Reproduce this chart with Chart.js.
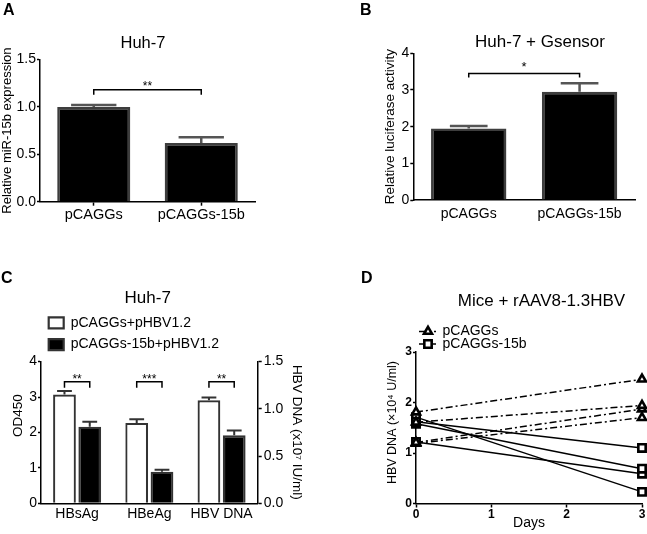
<!DOCTYPE html>
<html>
<head>
<meta charset="utf-8">
<script src="https://cdn.jsdelivr.net/npm/chart.js@4.4.1/dist/chart.umd.min.js"></script>
<style>
  html, body { margin: 0; padding: 0; background: #fff; overflow: hidden; }
  #page { position: relative; width: 647px; height: 534px; overflow: hidden; background: #fff; }
  #page canvas { position: absolute; }
  .letter { position: absolute; font: bold 16px "Liberation Sans", Arial, sans-serif; line-height: 16px; color: #000; }
</style>
</head>
<body>
<div id="page">
  <canvas id="chartA" width="286" height="267" style="left:0px;top:0px"></canvas>
  <canvas id="chartB" width="328" height="267" style="left:376px;top:0px"></canvas>
  <canvas id="chartC" width="345" height="267" style="left:-25px;top:267px"></canvas>
  <canvas id="chartD" width="315" height="267" style="left:384px;top:267px"></canvas>
  <div class="letter" style="left:3px;top:2px">A</div>
  <div class="letter" style="left:360px;top:2px">B</div>
  <div class="letter" style="left:1px;top:270px">C</div>
  <div class="letter" style="left:361px;top:270px">D</div>
</div>
<script>
// panel A - miR-15b expression
const catsA = ['pCAGGs', 'pCAGGs-15b'];
const meanA = [1.00, 0.62];
const errA = [0.02, 0.06];
const ticksA = [0, 0.5, 1.0, 1.5];
const sigA = [{ from: [0, 0], to: [0, 1], level: 1.18, label: '**' }];

// panel B - luciferase
const catsB = ['pCAGGs', 'pCAGGs-15b'];
const meanB = [1.95, 2.95];
const errB = [0.07, 0.23];
const ticksB = [0, 1, 2, 3, 4];
const sigB = [{ from: [0, 0], to: [0, 1], level: 3.45, label: '*' }];

// panel C - HBsAg / HBeAg (OD450, left) and HBV DNA (right)
const catsC = ['HBsAg', 'HBeAg', 'HBV DNA'];
const odCtrl = [3.07, 2.27, null];
const odCtrlErr = [0.10, 0.10, 0];
const od15b = [2.16, 0.89, null];
const od15bErr = [0.14, 0.06, 0];
const dnaCtrl = [null, null, 1.09];
const dnaCtrlErr = [0, 0, 0.03];
const dna15b = [null, null, 0.72];
const dna15bErr = [0, 0, 0.05];
const odTicks = [0, 1, 2, 3, 4];
const dnaTicks = [0, 0.5, 1.0, 1.5];
const sigC = [
  { from: [0, 0], to: [1, 0], level: 3.43, label: '**' },
  { from: [0, 1], to: [1, 1], level: 3.43, label: '***' },
  { from: [2, 2], to: [3, 2], level: 3.43, label: '**' }
];

// panel D - mice, one line per animal
const days = [0, 3];
const dayTicks = [0, 1, 2, 3];
const miceTicks = [0, 1, 2, 3];
const pcaggsMice = [[1.81, 2.46], [1.61, 1.94], [1.21, 1.87], [1.19, 1.70]];
const pcaggs15bMice = [[1.62, 1.10], [1.58, 0.69], [1.71, 0.23], [1.22, 0.59]];

const FONT = '"Liberation Sans", Arial, sans-serif';
Chart.defaults.font.family = FONT;
Chart.defaults.font.size = 14;
Chart.defaults.color = '#000';

const setTicks = list => axis => { axis.ticks = list.map(v => ({ value: v })); };

const errorBars = {
  id: 'errorBars',
  afterDatasetsDraw(chart, args, opts) {
    const ctx = chart.ctx;
    chart.data.datasets.forEach((ds, di) => {
      if (!ds.errors) return;
      const meta = chart.getDatasetMeta(di);
      const scale = chart.scales[meta.yAxisID];
      meta.data.forEach((bar, i) => {
        const v = ds.data[i];
        if (v === null || v === undefined) return;
        const top = scale.getPixelForValue(v + ds.errors[i]);
        const half = bar.width * opts.cap / 2;
        ctx.save();
        ctx.strokeStyle = opts.color;
        ctx.lineWidth = opts.width;
        ctx.beginPath();
        ctx.moveTo(bar.x, bar.y);
        ctx.lineTo(bar.x, top);
        ctx.moveTo(bar.x - half, top);
        ctx.lineTo(bar.x + half, top);
        ctx.stroke();
        ctx.restore();
      });
    });
  }
};

const sigBrackets = {
  id: 'sigBrackets',
  afterDatasetsDraw(chart, args, opts) {
    const ctx = chart.ctx;
    const scale = chart.scales.y;
    (opts.items || []).forEach(b => {
      const xa = chart.getDatasetMeta(b.from[0]).data[b.from[1]].x;
      const xb = chart.getDatasetMeta(b.to[0]).data[b.to[1]].x;
      const y = scale.getPixelForValue(b.level);
      ctx.save();
      ctx.strokeStyle = '#000';
      ctx.lineWidth = 1.5;
      ctx.beginPath();
      ctx.moveTo(xa, y + opts.drop);
      ctx.lineTo(xa, y);
      ctx.lineTo(xb, y);
      ctx.lineTo(xb, y + opts.drop);
      ctx.stroke();
      ctx.fillStyle = '#000';
      ctx.font = opts.size + 'px ' + FONT;
      ctx.textAlign = 'center';
      ctx.textBaseline = 'middle';
      ctx.fillText(b.label, (xa + xb) / 2, y - opts.gap);
      ctx.restore();
    });
  }
};

function marker(ctx, style, x, y, r) {
  ctx.beginPath();
  if (style === 'triangle') {
    let rad = 0;
    ctx.moveTo(x + Math.sin(rad) * r, y - Math.cos(rad) * r);
    rad += 2 * Math.PI / 3;
    ctx.lineTo(x + Math.sin(rad) * r, y - Math.cos(rad) * r);
    rad += 2 * Math.PI / 3;
    ctx.lineTo(x + Math.sin(rad) * r, y - Math.cos(rad) * r);
    ctx.closePath();
  } else {
    const s = r / Math.SQRT2;
    ctx.rect(x - s, y - s, 2 * s, 2 * s);
  }
  ctx.fill();
  ctx.stroke();
}

// legend for D: stacked rows with line sample + marker
const lineKey = {
  id: 'lineKey',
  afterDraw(chart, args, opts) {
    const ctx = chart.ctx;
    const area = chart.chartArea;
    (opts.items || []).forEach((it, k) => {
      const ds = chart.data.datasets[it.dataset];
      const y = area.top + opts.top + k * opts.rowGap;
      const sx = area.left + opts.symbolX;
      ctx.save();
      ctx.strokeStyle = ds.borderColor;
      ctx.lineWidth = ds.borderWidth;
      ctx.setLineDash(ds.borderDash || []);
      ctx.beginPath();
      ctx.moveTo(sx - 9, y);
      ctx.lineTo(sx + 8, y);
      ctx.stroke();
      ctx.setLineDash([]);
      ctx.fillStyle = ds.pointBackgroundColor;
      ctx.lineWidth = ds.pointBorderWidth;
      marker(ctx, ds.pointStyle, sx, y, ds.pointRadius);
      ctx.fillStyle = '#000';
      ctx.font = opts.size + 'px ' + FONT;
      ctx.textAlign = 'left';
      ctx.textBaseline = 'middle';
      ctx.fillText(ds.label, area.left + opts.textX, y);
      ctx.restore();
    });
  }
};

const axisLine = { color: '#000', width: 1.5 };
const tickGrid = len => ({ display: true, drawOnChartArea: false, offset: false, tickLength: len, tickColor: '#000', tickWidth: 1.5 });
const noTicks = { display: false, drawTicks: false };
// empty right-hand band so the panel title sits where the original has it
const spacer = w => ({
  position: 'right', display: true,
  grid: { display: false, drawTicks: false }, border: { display: false }, ticks: { display: false },
  afterFit: s => { s.width = w; }
});

// ---------- A ----------
new Chart(document.getElementById('chartA'), {
  type: 'bar',
  data: {
    labels: catsA,
    datasets: [{
      data: meanA, errors: errA,
      backgroundColor: '#000', borderColor: '#3d3d3d', borderWidth: 2.5,
      categoryPercentage: 1, barPercentage: 0.68
    }]
  },
  options: {
    responsive: false, animation: false, events: [], devicePixelRatio: 1,
    layout: { padding: 0 },
    plugins: {
      legend: { display: false }, tooltip: { enabled: false },
      title: { display: true, text: 'Huh-7', color: '#000', font: { size: 16.5, weight: 'normal' }, padding: { top: 33.1, bottom: 6.6 } },
      errorBars: { cap: 0.62, color: '#555', width: 2.5 },
      sigBrackets: { items: sigA, drop: 5, gap: 3, size: 12 }
    },
    scales: {
      x: {
        grid: tickGrid(4), border: axisLine,
        ticks: { font: { size: 14.5 }, color: '#000', padding: 1 },
        afterFit: s => { s.height = 65.3; }
      },
      y: {
        min: 0, max: 1.5, afterBuildTicks: setTicks(ticksA),
        grid: tickGrid(3), border: axisLine,
        ticks: { font: { size: 14 }, color: '#000', padding: 1, callback: v => Number(v).toFixed(1) },
        title: { display: true, text: 'Relative miR-15b expression', color: '#000', font: { size: 13 }, padding: { top: 0, bottom: 0 } },
        afterFit: s => { s.width = 40; }
      },
      gap: spacer(31)
    }
  },
  plugins: [errorBars, sigBrackets]
});

// ---------- B ----------
new Chart(document.getElementById('chartB'), {
  type: 'bar',
  data: {
    labels: catsB,
    datasets: [{
      data: meanB, errors: errB,
      backgroundColor: '#000', borderColor: '#3d3d3d', borderWidth: 2.5,
      categoryPercentage: 1, barPercentage: 0.68
    }]
  },
  options: {
    responsive: false, animation: false, events: [], devicePixelRatio: 1,
    layout: { padding: 0 },
    plugins: {
      legend: { display: false }, tooltip: { enabled: false },
      title: { display: true, text: 'Huh-7 + Gsensor', color: '#000', font: { size: 17, weight: 'normal' }, padding: { top: 31.8, bottom: 1.1 } },
      errorBars: { cap: 0.5, color: '#555', width: 2.5 },
      sigBrackets: { items: sigB, drop: 4, gap: 6, size: 13 }
    },
    scales: {
      x: {
        grid: noTicks, border: axisLine,
        ticks: { font: { size: 14 }, color: '#000', padding: 6 },
        afterFit: s => { s.height = 67; }
      },
      y: {
        min: 0, max: 4, afterBuildTicks: setTicks(ticksB),
        grid: tickGrid(3), border: axisLine,
        ticks: { font: { size: 14 }, color: '#000', padding: 1 },
        title: { display: true, text: 'Relative luciferase activity', color: '#000', font: { size: 13.5 }, padding: { top: 5.9, bottom: 0 } },
        afterFit: s => { s.width = 37.3; }
      },
      gap: spacer(69)
    }
  },
  plugins: [errorBars, sigBrackets]
});

// ---------- C ----------
const whiteBar = { backgroundColor: '#fff', borderColor: '#333', borderWidth: 2.2, stack: 'ctrl', categoryPercentage: 0.7, barPercentage: 0.9 };
const blackBar = { backgroundColor: '#000', borderColor: '#333', borderWidth: 2.2, stack: 'mir', categoryPercentage: 0.7, barPercentage: 0.9 };
new Chart(document.getElementById('chartC'), {
  type: 'bar',
  data: {
    labels: catsC,
    datasets: [
      Object.assign({ label: 'pCAGGs+pHBV1.2', data: odCtrl, errors: odCtrlErr, yAxisID: 'y' }, whiteBar),
      Object.assign({ label: 'pCAGGs-15b+pHBV1.2', data: od15b, errors: od15bErr, yAxisID: 'y' }, blackBar),
      Object.assign({ label: 'pCAGGs+pHBV1.2', data: dnaCtrl, errors: dnaCtrlErr, yAxisID: 'y1' }, whiteBar),
      Object.assign({ label: 'pCAGGs-15b+pHBV1.2', data: dna15b, errors: dna15bErr, yAxisID: 'y1' }, blackBar)
    ]
  },
  options: {
    responsive: false, animation: false, events: [], devicePixelRatio: 1,
    layout: { padding: { left: 15.4, right: 15, top: 0, bottom: 0 } },
    plugins: {
      tooltip: { enabled: false },
      title: { display: true, text: 'Huh-7', color: '#000', font: { size: 17, weight: 'normal' }, padding: { top: 20.8, bottom: 0 } },
      legend: {
        display: true, position: 'top', align: 'start', fullSize: false,
        labels: {
          boxWidth: 15, boxHeight: 11, padding: 7.7, color: '#000', font: { size: 14 },
          filter: item => item.datasetIndex < 2
        }
      },
      errorBars: { cap: 0.65, color: '#333', width: 2 },
      sigBrackets: { items: sigC, drop: 6, gap: 2, size: 12 }
    },
    scales: {
      x: {
        grid: noTicks, border: axisLine,
        ticks: { font: { size: 14 }, color: '#000', padding: 2 },
        afterFit: s => { s.height = 30.7; }
      },
      y: {
        position: 'left', stacked: false, min: 0, max: 4, afterBuildTicks: setTicks(odTicks),
        grid: tickGrid(3), border: axisLine,
        ticks: { font: { size: 14 }, color: '#000', padding: 1 },
        // leading spaces lift the label a little above the axis middle, as in the original
        title: { display: true, text: '         OD450', color: '#000', font: { size: 13.5 }, padding: { top: 19.8, bottom: 0 } },
        afterFit: s => { s.width = 50.6; }
      },
      y1: {
        position: 'right', stacked: false, min: 0, max: 1.5, afterBuildTicks: setTicks(dnaTicks),
        grid: tickGrid(4), border: axisLine,
        ticks: { font: { size: 14 }, color: '#000', padding: 2, callback: v => Number(v).toFixed(1) },
        title: { display: true, text: 'HBV DNA (x10\u2077 IU/ml)', color: '#000', font: { size: 13.5 }, padding: { top: 0, bottom: 0 } },
        afterFit: s => { s.width = 47.3; }
      }
    }
  },
  plugins: [errorBars, sigBrackets]
});

// ---------- D ----------
const dashDot = [7, 3, 2, 3];
const mouseLine = (vals, label, dash, style, r) => ({
  label: label,
  data: vals.map((v, i) => ({ x: days[i], y: v })),
  borderColor: '#000', borderWidth: 1.5, borderDash: dash,
  pointStyle: style, pointRadius: r, pointBorderWidth: 2.6,
  pointBackgroundColor: '#fff', pointBorderColor: '#000',
  tension: 0, clip: false
});
const dDatasets = pcaggsMice.map(v => mouseLine(v, 'pCAGGs', dashDot, 'triangle', 4.6))
  .concat(pcaggs15bMice.map(v => mouseLine(v, 'pCAGGs-15b', [], 'rect', 5.2)));

new Chart(document.getElementById('chartD'), {
  type: 'line',
  data: { datasets: dDatasets },
  options: {
    responsive: false, animation: false, events: [], devicePixelRatio: 1,
    layout: { padding: 0 },
    plugins: {
      legend: { display: false }, tooltip: { enabled: false },
      title: { display: true, text: 'Mice + rAAV8-1.3HBV', color: '#000', font: { size: 17, weight: 'normal' }, padding: { top: 24.5, bottom: 40.1 } },
      lineKey: { items: [{ dataset: 0 }, { dataset: 4 }], top: -20.5, rowGap: 12.5, symbolX: 12, textX: 26.5, size: 14 }
    },
    scales: {
      x: {
        type: 'linear', min: 0, max: 3, afterBuildTicks: setTicks(dayTicks),
        grid: tickGrid(4), border: axisLine,
        ticks: { font: { size: 12, weight: 'bold' }, color: '#000', padding: 0 },
        title: { display: true, text: 'Days', color: '#000', font: { size: 14 }, padding: { top: 0, bottom: 2.6 } },
        afterFit: s => { s.height = 30.5; }
      },
      y: {
        min: 0, max: 3, afterBuildTicks: setTicks(miceTicks),
        grid: tickGrid(3), border: axisLine,
        ticks: { font: { size: 12, weight: 'bold' }, color: '#000', padding: 1 },
        title: { display: true, text: '   HBV DNA (\u00d710\u2074 U/ml)', color: '#000', font: { size: 12.5 }, padding: { top: 1.5, bottom: 0 } },
        afterFit: s => { s.width = 32; }
      },
      gap: spacer(57)
    }
  },
  plugins: [lineKey]
});
</script>
</body>
</html>
